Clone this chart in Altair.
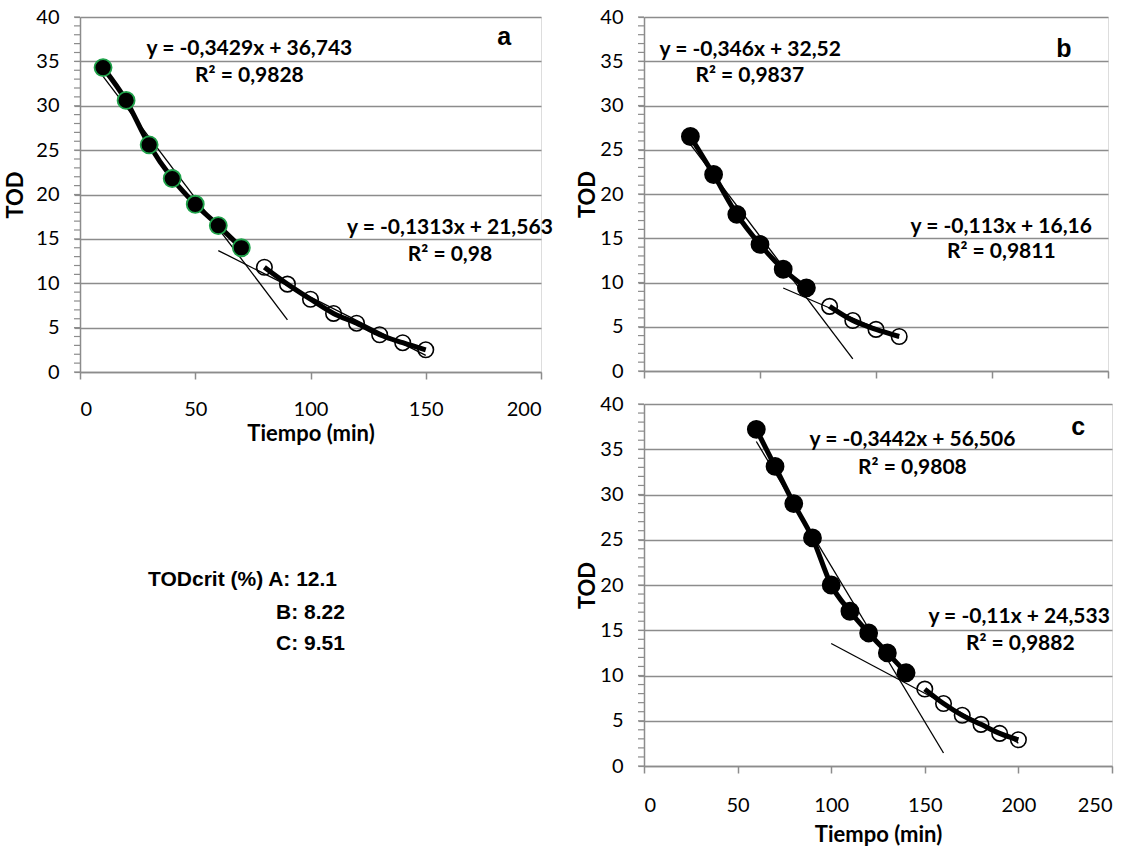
import altair as alt
import pandas as pd

# ---------------- data ----------------
# Panel a
a_t_fast = [10, 20, 30, 40, 50, 60, 70]
a_tod_fast = [34.3, 30.6, 25.6, 21.8, 18.9, 16.5, 14.0]
a_t_slow = [80, 90, 100, 110, 120, 130, 140, 150]
a_tod_slow = [11.8, 9.9, 8.2, 6.6, 5.5, 4.2, 3.3, 2.5]
# Panel b
b_t_fast = [20, 30, 40, 50, 60, 70]
b_tod_fast = [26.5, 22.2, 17.7, 14.3, 11.5, 9.4]
b_t_slow = [80, 90, 100, 110]
b_tod_slow = [7.3, 5.7, 4.7, 3.9]
# Panel c
c_t_fast = [60, 70, 80, 90, 100, 110, 120, 130, 140]
c_tod_fast = [37.2, 33.1, 29.0, 25.2, 20.0, 17.1, 14.7, 12.5, 10.3]
c_t_slow = [150, 160, 170, 180, 190, 200]
c_tod_slow = [8.5, 6.9, 5.6, 4.6, 3.6, 2.9]

# trend lines: slope, intercept, x-range
a_trends = [(-0.3429, 36.743, 10, 90), (-0.1313, 21.563, 60, 150)]
b_trends = [(-0.346, 32.52, 20, 90), (-0.113, 16.16, 60, 110)]
c_trends = [(-0.3442, 56.506, 60, 160), (-0.11, 24.533, 100, 200)]

# annotation texts (label, x, y in data units)
a_texts = [("y = -0,3429x + 36,743", 73.5, 36.4), ("R² = 0,9828", 73.5, 33.3),
           ("y = -0,1313x + 21,563", 160.5, 16.2), ("R² = 0,98", 160.5, 13.2)]
b_texts = [("y = -0,346x + 32,52", 45.8, 36.3), ("R² = 0,9837", 45.6, 33.3),
           ("y = -0,113x + 16,16", 154, 16.3), ("R² = 0,9811", 154, 13.4)]
c_texts = [("y = -0,3442x + 56,506", 143.4, 36.0), ("R² = 0,9808", 143.4, 32.9),
           ("y = -0,11x + 24,533", 200.4, 16.5), ("R² = 0,9882", 201, 13.5)]
letters = {"a": (184, 37.7), "b": (181, 36.4), "c": (232, 37.5)}

y_major = [0, 5, 10, 15, 20, 25, 30, 35, 40]
y_minor = list(range(0, 41))

crit_lines = ["TODcrit (%) A: 12.1", "B: 8.22", "C: 9.51"]

GRAY = "#8c8c8c"
FONT = "Lato"


def panel(t_fast, tod_fast, t_slow, tod_slow, trends, texts, letter,
          xmax, xticks, width, height, show_xlabels, ring_color, title_pad,
          xlab_pad, xtitle_pad):
    fast = pd.DataFrame({"t": t_fast, "tod": tod_fast})
    slow = pd.DataFrame({"t": t_slow, "tod": tod_slow})
    rows = []
    for i, (m, b, x0, x1) in enumerate(trends):
        rows.append({"t": x0, "tod": m * x0 + b, "k": i})
        rows.append({"t": x1, "tod": m * x1 + b, "k": i})
    tr = pd.DataFrame(rows)
    tx = pd.DataFrame([{"lab": s, "t": x, "tod": y} for s, x, y in texts])
    lx, ly = letters[letter]
    lt = pd.DataFrame([{"lab": letter, "t": lx, "tod": ly}])
    minor = pd.DataFrame({"tod": y_minor})

    xaxis = alt.Axis(values=xticks, grid=False, tickSize=7, tickColor=GRAY,
                     tickWidth=1.5, domainColor=GRAY, domainWidth=1.5,
                     labels=show_xlabels, labelPadding=xlab_pad, labelFont=FONT,
                     labelFontSize=20, labelColor="black",
                     titleFont=FONT, titleFontSize=22, titleFontWeight="bold",
                     titleColor="black", titlePadding=xtitle_pad, format="d")
    yaxis = alt.Axis(values=y_major, tickSize=6, tickColor=GRAY,
                     tickWidth=1.2, domainColor=GRAY, domainWidth=1.5,
                     grid=True, gridColor=GRAY, gridWidth=1.5,
                     labelPadding=15, labelFont=FONT, labelFontSize=20,
                     labelColor="black", titleFont=FONT, titleFontSize=22,
                     titleFontWeight="bold", titleColor="black",
                     titlePadding=title_pad, format="d")
    xs = alt.Scale(domain=[0, xmax], nice=False, zero=True)
    ys = alt.Scale(domain=[0, 40], nice=False)
    xtitle = "Tiempo (min)" if show_xlabels else ""
    X = alt.X("t:Q", scale=xs, axis=xaxis, title=xtitle)
    Y = alt.Y("tod:Q", scale=ys, axis=yaxis, title="TOD")

    trend = alt.Chart(tr).mark_line(color="black", strokeWidth=1.3).encode(
        x=X, y=Y, detail="k:N")
    mt = alt.Chart(minor).mark_rule(color=GRAY, strokeWidth=1.2).encode(
        y="tod:Q", x=alt.value(-6), x2=alt.value(0))
    lf = alt.Chart(fast).mark_line(color="black", strokeWidth=5, interpolate="monotone").encode(x="t:Q", y="tod:Q")
    ls = alt.Chart(slow).mark_line(color="black", strokeWidth=5, interpolate="monotone").encode(x="t:Q", y="tod:Q")
    pf = alt.Chart(fast).mark_point(filled=True, fill="black", stroke=ring_color,
                                    strokeWidth=1.8, size=290, opacity=1,
                                    shape="circle").encode(x="t:Q", y="tod:Q")
    ps = alt.Chart(slow).mark_point(filled=False, stroke="black", strokeWidth=1.6,
                                    size=240, opacity=1, shape="circle").encode(x="t:Q", y="tod:Q")
    te = alt.Chart(tx).mark_text(font=FONT, fontSize=21, fontWeight="bold",
                                 color="black", align="center", baseline="middle").encode(
        x="t:Q", y="tod:Q", text="lab:N")
    le = alt.Chart(lt).mark_text(font="Liberation Sans", fontSize=25, fontWeight="bold",
                                 color="black", align="center", baseline="middle").encode(
        x="t:Q", y="tod:Q", text="lab:N")
    return alt.layer(trend, mt, lf, ls, ps, pf, te, le).properties(width=width, height=height)


pa = panel(a_t_fast, a_tod_fast, a_t_slow, a_tod_slow, a_trends, a_texts, "a",
           200, [0, 50, 100, 150, 200], 461, 355, True, "#1fa24a", 8, 20, 4)
pb = panel(b_t_fast, b_tod_fast, b_t_slow, b_tod_slow, b_trends, b_texts, "b",
           200, [0, 50, 100, 150, 200], 464, 354, False, "black", 0, 23, 0)
pc = panel(c_t_fast, c_tod_fast, c_t_slow, c_tod_slow, c_trends, c_texts, "c",
           250, [0, 50, 100, 150, 200, 250], 468, 362, True, "black", 0, 22, 9)

crit = pd.DataFrame({"lab": crit_lines, "row": [0, 1, 2]})


def crit_mark(row, x, y):
    return alt.Chart(crit[crit.row == row]).mark_text(
        font="Liberation Sans", fontSize=21, fontWeight="bold", color="black",
        align="left", baseline="middle").encode(
        x=alt.value(x), y=alt.value(y), text="lab:N")


left = alt.layer(pa, crit_mark(0, 68, 563), crit_mark(1, 196, 596), crit_mark(2, 196, 627))
right = alt.vconcat(pb, pc, spacing=11)
chart = alt.hconcat(left, right, spacing=22).properties(
    padding={"left": 4, "top": 6, "right": 0, "bottom": 0}
).configure_view(stroke=None).configure(background="white")

chart.save("out.html", embed_options={"renderer": "svg", "actions": False})
